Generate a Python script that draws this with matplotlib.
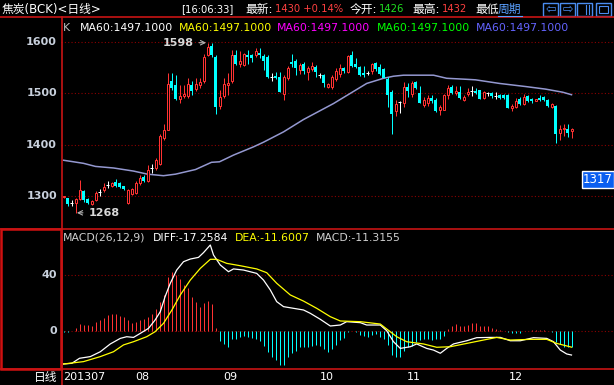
import matplotlib.pyplot as plt
from matplotlib.patches import Rectangle

W, H = 614, 385

# daily candles (index 0 = first visible day of 2013-07)
opens = [1299, 1296, 1288, 1287, 1294, 1311, 1294, 1285, 1293, 1308,
         1313, 1322, 1321, 1327, 1325, 1320, 1287, 1304, 1306, 1325,
         1338, 1330, 1354, 1355, 1363, 1413, 1429, 1523, 1516, 1488,
         1494, 1494, 1515, 1508, 1516, 1523, 1575, 1592, 1571, 1475,
         1494, 1516, 1523, 1575, 1556, 1555, 1575, 1574, 1575, 1579,
         1573, 1571, 1532, 1534, 1532, 1499, 1529, 1561, 1563, 1545,
         1556, 1541, 1547, 1551, 1535, 1535, 1513, 1512, 1527, 1538,
         1548, 1542, 1574, 1556, 1551, 1540, 1540, 1543, 1558, 1550,
         1547, 1527, 1503, 1465, 1483, 1481, 1512, 1499, 1521, 1501,
         1477, 1481, 1490, 1487, 1468, 1468, 1497, 1513, 1500, 1503,
         1487, 1499, 1504, 1505, 1506, 1490, 1500, 1500, 1495, 1497,
         1497, 1497, 1471, 1474, 1489, 1479, 1495, 1489, 1485, 1491,
         1493, 1487, 1474, 1475, 1422, 1430, 1430, 1426]
highs = [1301, 1297, 1292, 1297, 1332, 1313, 1296, 1293, 1310, 1314,
         1326, 1329, 1327, 1334, 1328, 1321, 1314, 1317, 1330, 1342,
         1342, 1361, 1362, 1374, 1420, 1440, 1539, 1539, 1535, 1516,
         1516, 1529, 1523, 1529, 1529, 1577, 1598, 1597, 1575, 1506,
         1529, 1539, 1584, 1584, 1581, 1579, 1584, 1576, 1588, 1587,
         1577, 1574, 1539, 1542, 1541, 1535, 1552, 1577, 1566, 1558,
         1560, 1552, 1560, 1554, 1540, 1537, 1520, 1536, 1548, 1556,
         1551, 1575, 1582, 1569, 1553, 1553, 1543, 1559, 1560, 1556,
         1549, 1532, 1506, 1486, 1485, 1522, 1519, 1523, 1523, 1514,
         1493, 1497, 1497, 1490, 1477, 1499, 1516, 1516, 1514, 1514,
         1497, 1510, 1514, 1511, 1507, 1505, 1503, 1503, 1503, 1499,
         1499, 1499, 1479, 1490, 1492, 1499, 1497, 1490, 1489, 1497,
         1494, 1488, 1482, 1477, 1438, 1440, 1440, 1432]
lows = [1296, 1282, 1281, 1268, 1292, 1289, 1286, 1284, 1291, 1300,
        1309, 1316, 1319, 1318, 1316, 1313, 1285, 1302, 1304, 1322,
        1327, 1328, 1346, 1352, 1360, 1410, 1428, 1506, 1487, 1481,
        1490, 1491, 1497, 1505, 1510, 1520, 1572, 1570, 1459, 1470,
        1490, 1497, 1520, 1555, 1550, 1553, 1556, 1561, 1571, 1569,
        1545, 1529, 1524, 1527, 1502, 1487, 1526, 1550, 1535, 1537,
        1538, 1526, 1543, 1532, 1530, 1513, 1510, 1509, 1524, 1532,
        1540, 1540, 1550, 1548, 1534, 1532, 1535, 1538, 1543, 1536,
        1529, 1473, 1421, 1456, 1462, 1474, 1493, 1493, 1508, 1481,
        1474, 1476, 1481, 1464, 1458, 1467, 1488, 1498, 1497, 1488,
        1485, 1494, 1494, 1499, 1488, 1488, 1494, 1491, 1489, 1489,
        1488, 1471, 1465, 1472, 1478, 1477, 1483, 1482, 1484, 1484,
        1485, 1474, 1472, 1404, 1409, 1417, 1416, 1413]
closes = [1300, 1286, 1288, 1295, 1313, 1292, 1288, 1290, 1307, 1308,
          1318, 1322, 1325, 1320, 1318, 1314, 1312, 1314, 1325, 1336,
          1329, 1352, 1354, 1370, 1417, 1429, 1517, 1510, 1489, 1495,
          1499, 1517, 1505, 1517, 1522, 1571, 1590, 1574, 1474, 1492,
          1517, 1520, 1574, 1557, 1563, 1576, 1570, 1568, 1581, 1574,
          1563, 1532, 1532, 1529, 1503, 1532, 1548, 1556, 1548, 1554,
          1543, 1548, 1552, 1541, 1535, 1519, 1517, 1532, 1543, 1548,
          1544, 1573, 1553, 1551, 1536, 1536, 1540, 1556, 1547, 1538,
          1530, 1496, 1460, 1480, 1483, 1512, 1504, 1519, 1511, 1482,
          1487, 1490, 1484, 1466, 1473, 1497, 1510, 1500, 1505, 1490,
          1493, 1503, 1504, 1500, 1489, 1502, 1500, 1494, 1495, 1490,
          1491, 1472, 1475, 1485, 1479, 1493, 1484, 1485, 1488, 1487,
          1486, 1475, 1479, 1421, 1430, 1433, 1422, 1430]

ma60_idx = [0, 5, 8, 12.5, 17.5, 21, 25, 28, 33, 37, 39, 42.5, 47.5, 50, 55,
            60, 67.5, 75.8, 80, 82.5, 85, 92.5, 95.8, 100.8, 103, 109, 115.5,
            120.5, 124.8, 127]
ma60_val = [1370, 1364, 1358, 1355, 1349, 1343, 1340, 1343, 1352, 1366, 1367,
            1380, 1396, 1405, 1425, 1449, 1480, 1519, 1529, 1533, 1535, 1535,
            1529, 1527, 1526, 1519, 1513, 1508, 1502, 1497.1]

macd_hist = [-0.4, -0.4, -0.3, 2, 5, 4.3, 4.3, 3.8, 6.5, 7.9,
             9.1, 11.3, 12, 12, 11, 9.8, 7.9, 6, 6.5, 7.9,
             8.6, 10.3, 12, 15.6, 21, 25.9, 38.6, 42.6, 40.2, 37.4,
             33, 30.7, 24.7, 21, 17.5, 19.9, 21.8, 19.4, 2.4, -7,
             -9.3, -11.7, -6, -5.5, -4.1, -3.6, -4.6, -4.8, -5.5, -7,
             -10.8, -14.9, -18.4, -20.8, -24.4, -24.4, -18.4, -16, -14.1, -11.7,
             -11.3, -11.3, -10.8, -10, -10.8, -13.2, -14.9, -13.2, -10, -6.5,
             -5.3, -0.5, -0.3, -1, -2.9, -3.6, -4.1, -2.9, -2.2, -4.1,
             -6, -10, -17.2, -18.4, -18.9, -14.1, -11.3, -10.8, -7.7, -6.5,
             -6, -6, -6.5, -6, -6, -3.4, 1.4, 3.6, 4.8, 3.8,
             3.6, 4.3, 5.5, 5.5, 3.6, 3.8, 3.6, 2.4, 1.4, 0.7,
             0.3, -1, -1.7, -1.7, -1.2, -0.3, 0.3, 0.5, 0.5, 1,
             0.5, 0.2, -0.5, -7.7, -9.3, -11.3, -11.3, -11.3]

diff_idx = [0, 2.1, 4, 6.7, 9.2, 11.7, 14.2, 15.8, 17.5, 19.2, 21.25, 22.9,
            24.2, 25.4, 26.7, 28.3, 30, 31.7, 33.75, 35, 36.7, 37.5, 39.2,
            41.25, 42.5, 45, 48.3, 50, 51.7, 53.3, 55, 57.5, 60, 61.7, 64.2,
            66.7, 69.2, 70.8, 74.2, 75.8, 79.2, 80.8, 82.5, 84.2, 86.7, 88.3,
            90.8, 92.5, 94.2, 95.8, 97.5, 100.8, 103.3, 106.7, 109.2, 111.7,
            114.2, 117.5, 120.8, 122.5, 124.2, 125.8, 127]
diff_val = [-23.7, -23.2, -19.6, -18.4, -14.9, -9.3, -5.3, -4.1, -4.6, -1.7,
            1.9, 7.9, 13.9, 24.7, 34.3, 43.8, 49.8, 51.7, 52.9, 56.3, 61.8,
            54.6, 47.4, 42.6, 44.6, 43.8, 41.4, 36.6, 29.5, 21.1, 17.5, 16.3,
            15.1, 12.7, 8.4, 3.6, 4.3, 6.7, 6, 4.3, 4.3, 0.2, -7.7, -12.5,
            -11.3, -9.3, -12.5, -13.7, -16, -12.5, -9.3, -7, -4.8, -4.6, -4.6,
            -7, -7, -4.8, -5.3, -7.7, -13.7, -16.5, -17.26]

dea_idx = [0, 5, 9.2, 12.5, 15, 17.5, 20.8, 22.9, 25, 27.1, 29.2, 31.7, 34.2,
           36.7, 38.3, 40.8, 44.2, 48.3, 50.8, 53.3, 56.7, 60, 63.3, 66.7,
           69.2, 74.2, 79.2, 83.3, 85.8, 90, 93.3, 96.7, 101.7, 105, 108.3,
           111.7, 116.7, 120.8, 123.3, 127]
dea_val = [-23.7, -22, -18.4, -14.9, -10, -7.7, -4.1, -0.5, 5.5, 15.1, 25.9,
           36.6, 45, 51.5, 51.5, 48.6, 46.9, 44.6, 41.9, 34.3, 25.9, 21.5,
           16.3, 10.3, 7.2, 6.7, 5, -4.1, -7.7, -9.3, -11.7, -11.3, -8.4,
           -6.5, -4.6, -6.5, -6, -6, -8.9, -11.6]

price_ticks = [1300, 1400, 1500, 1600]
macd_ticks = [0, 40]
month_labels = ['201307', '08', '09', '10', '11', '12']
month_pos = [None, 19.85, 41.7, 65.85, 87.7, 113.1]

RED = '#ff3232'
CYAN = '#00ffff'
LINE_RED = '#c81414'
GRID = '#8c0000'
LABEL = '#c8d0dc'

plt.rcParams['font.family'] = ['DejaVu Sans', 'Noto Sans CJK SC']


def fx(x):
    return x / W


def fy(y):
    return 1 - y / H


fig = plt.figure(figsize=(W / 100, H / 100), dpi=100, facecolor='black')

# 4 px per candle, candle i centred on pixel column 63 + 4i
x0_px = 61
xmin = -2.5 / 4
xmax = xmin + (W - x0_px) / 4
ax = fig.add_axes([fx(x0_px), fy(228.7), (W - x0_px) / W, (228.7 - 17.3) / H])
ax2 = fig.add_axes([fx(x0_px), fy(369), (W - x0_px) / W, (369 - 228.7) / H])
for a in (ax, ax2):
    a.set_facecolor('none')
    a.set_axis_off()
    a.set_xlim(xmin, xmax)
ax.set_ylim(1237.2, 1647.3)
ax2.set_ylim(-27.3, 73.5)

# grid + y labels
for v in price_ticks:
    ax.axhline(v, color=GRID, ls=(0, (1, 2)), lw=0.8, zorder=0)
    ax.annotate(str(v), xy=(0, v), xycoords=('axes fraction', 'data'),
                xytext=(-4, 0), textcoords='offset pixels', ha='right',
                va='center', color=LABEL, fontsize=8, fontweight='bold')
for v in macd_ticks:
    ax2.axhline(v, color=GRID, ls=(0, (1, 2)), lw=0.8, zorder=0)
    ax2.annotate(str(v), xy=(0, v), xycoords=('axes fraction', 'data'),
                 xytext=(-4, 0), textcoords='offset pixels', ha='right',
                 va='center', color=LABEL, fontsize=8, fontweight='bold')

# candles
px1 = 0.72  # one pixel in points at 100 dpi
for i in range(len(opens)):
    o, h, l, c = opens[i], highs[i], lows[i], closes[i]
    if c > o:
        ax.vlines(i, l, o, color=RED, lw=px1, zorder=2)
        ax.vlines(i, c, h, color=RED, lw=px1, zorder=2)
        ax.add_patch(Rectangle((i - 0.25, o), 0.5, c - o, facecolor='black',
                               edgecolor=RED, lw=px1, zorder=3))
    elif c < o:
        ax.vlines(i, l, h, color=CYAN, lw=px1, zorder=2)
        ax.add_patch(Rectangle((i - 0.375, c), 0.75, o - c, facecolor=CYAN,
                               edgecolor='none', zorder=3))
    else:
        ax.vlines(i, l, h, color='white', lw=px1, zorder=2)
        ax.hlines(o, i - 0.375, i + 0.375, color='white', lw=px1, zorder=3)

ax.plot(ma60_idx, ma60_val, color='#9498d0', lw=1.1, zorder=1)

# high / low marks
hi = highs.index(max(highs))
lo = lows.index(min(lows))
ax.annotate(str(max(highs)), xy=(hi, max(highs)), xytext=(-14, 0),
            textcoords='offset pixels', ha='right', va='center',
            color='#d8d8d8', fontsize=8, fontweight='bold',
            arrowprops=dict(arrowstyle='->', color='#b0b0b0', lw=0.8,
                            shrinkA=2, shrinkB=1))
ax.annotate(str(min(lows)), xy=(lo, min(lows)), xytext=(13, 0),
            textcoords='offset pixels', ha='left', va='center',
            color='#d8d8d8', fontsize=8, fontweight='bold',
            arrowprops=dict(arrowstyle='->', color='#b0b0b0', lw=0.8,
                            shrinkA=2, shrinkB=1))

# macd
xs = list(range(len(macd_hist)))
pos = [v if v > 0 else 0 for v in macd_hist]
neg = [v if v < 0 else 0 for v in macd_hist]
ax2.vlines(xs, 0, pos, color=RED, lw=px1, zorder=2)
ax2.vlines(xs, neg, 0, color=CYAN, lw=px1, zorder=2)
ax2.plot(diff_idx, diff_val, color='white', lw=0.9, zorder=3)
ax2.plot(dea_idx, dea_val, color='#ffff00', lw=0.9, zorder=3)

# frame lines
fig.add_artist(plt.Line2D([0, 1], [fy(17.3)] * 2, color=LINE_RED, lw=1.2))
fig.add_artist(plt.Line2D([0, 1], [fy(228.7)] * 2, color=LINE_RED, lw=1.2))
fig.add_artist(plt.Line2D([0, 1], [fy(369)] * 2, color=LINE_RED, lw=1.2))
fig.add_artist(plt.Line2D([fx(61.5)] * 2, [fy(17.3), 0], color=LINE_RED, lw=1.2))
fig.add_artist(Rectangle((fx(1), fy(369)), fx(60), (369 - 228.7) / H,
                         transform=fig.transFigure, fill=False,
                         edgecolor='#d01010', lw=1.8))


def put(x, y, s, color='white', size=8, **kw):
    fig.text(fx(x), fy(y), s, color=color, fontsize=size, va='center', **kw)


# header
put(2, 9, '焦炭(BCK)<日线>', size=8.5)
put(181, 9, '[16:06:33]', size=7.2)
put(245, 9, '最新:', size=8.5)
put(275, 9, '1430 +0.14%', color='#ff4040', size=7.2)
put(350, 9, '今开:', size=8.5)
put(379, 9, '1426', color='#20e020', size=7.2)
put(412, 9, '最高:', size=8.5)
put(442, 9, '1432', color='#ff4040', size=7.2)
put(475, 9, '最低', size=8.5)
put(498, 9, '周期', color='#5aa0ff', size=8.5)
fig.add_artist(plt.Line2D([fx(498), fx(522)], [fy(16)] * 2, color='#5aa0ff', lw=0.8))
icons = ['⇦', '⇨', '', '']
for k, bx in enumerate([543, 560, 577, 596]):
    fig.add_artist(Rectangle((fx(bx), fy(16)), 15 / W, 13 / H,
                             transform=fig.transFigure, fill=False,
                             edgecolor='#4a8cf0', lw=1))
    if icons[k]:
        put(bx + 7.5, 9.5, icons[k], color='#4a8cf0', size=9, ha='center')
fig.add_artist(plt.Line2D([fx(586)] * 2, [fy(5), fy(14)], color='#4a8cf0', lw=0.8))
fig.add_artist(plt.Line2D([fx(589)] * 2, [fy(5), fy(14)], color='#4a8cf0', lw=0.8))
fig.add_artist(Rectangle((fx(599), fy(13)), 9 / W, 7 / H,
                         transform=fig.transFigure, fill=False,
                         edgecolor='#4a8cf0', lw=0.8))

# legends
put(63, 28, 'K', color='#c0c0c0', size=7.8)
ma_colors = ['white', '#ffff00', '#ff00ff', '#00ff00', '#6464ff']
for k, lx in enumerate([79.5, 179, 277, 377, 476]):
    put(lx, 28, 'MA60:1497.1000', color=ma_colors[k], size=7.8)
put(63, 238, 'MACD(26,12,9)', color='#d0d0d0', size=7.8)
put(153, 238, 'DIFF:-17.2584', color='white', size=7.8)
put(235, 238, 'DEA:-11.6007', color='#ffff00', size=7.8)
put(316, 238, 'MACD:-11.3155', color='#d0d0d0', size=7.8)

# right price tag
fig.add_artist(Rectangle((fx(582), fy(188)), 32 / W, 17 / H,
                         transform=fig.transFigure, facecolor='#0a5ef0',
                         edgecolor='white', lw=1))
put(598, 180, '1317', color='white', size=8.5, ha='center')

# x labels
put(57, 377, '日线', size=8.5, ha='right')
for lab, p in zip(month_labels, month_pos):
    if p is None:
        put(63, 377, lab, size=8)
    else:
        fig.text(fx(63.3 + 4 * p), fy(377), lab, color='white', fontsize=8,
                 va='center', ha='center')

fig.savefig('out.png', dpi=100, facecolor='black')
